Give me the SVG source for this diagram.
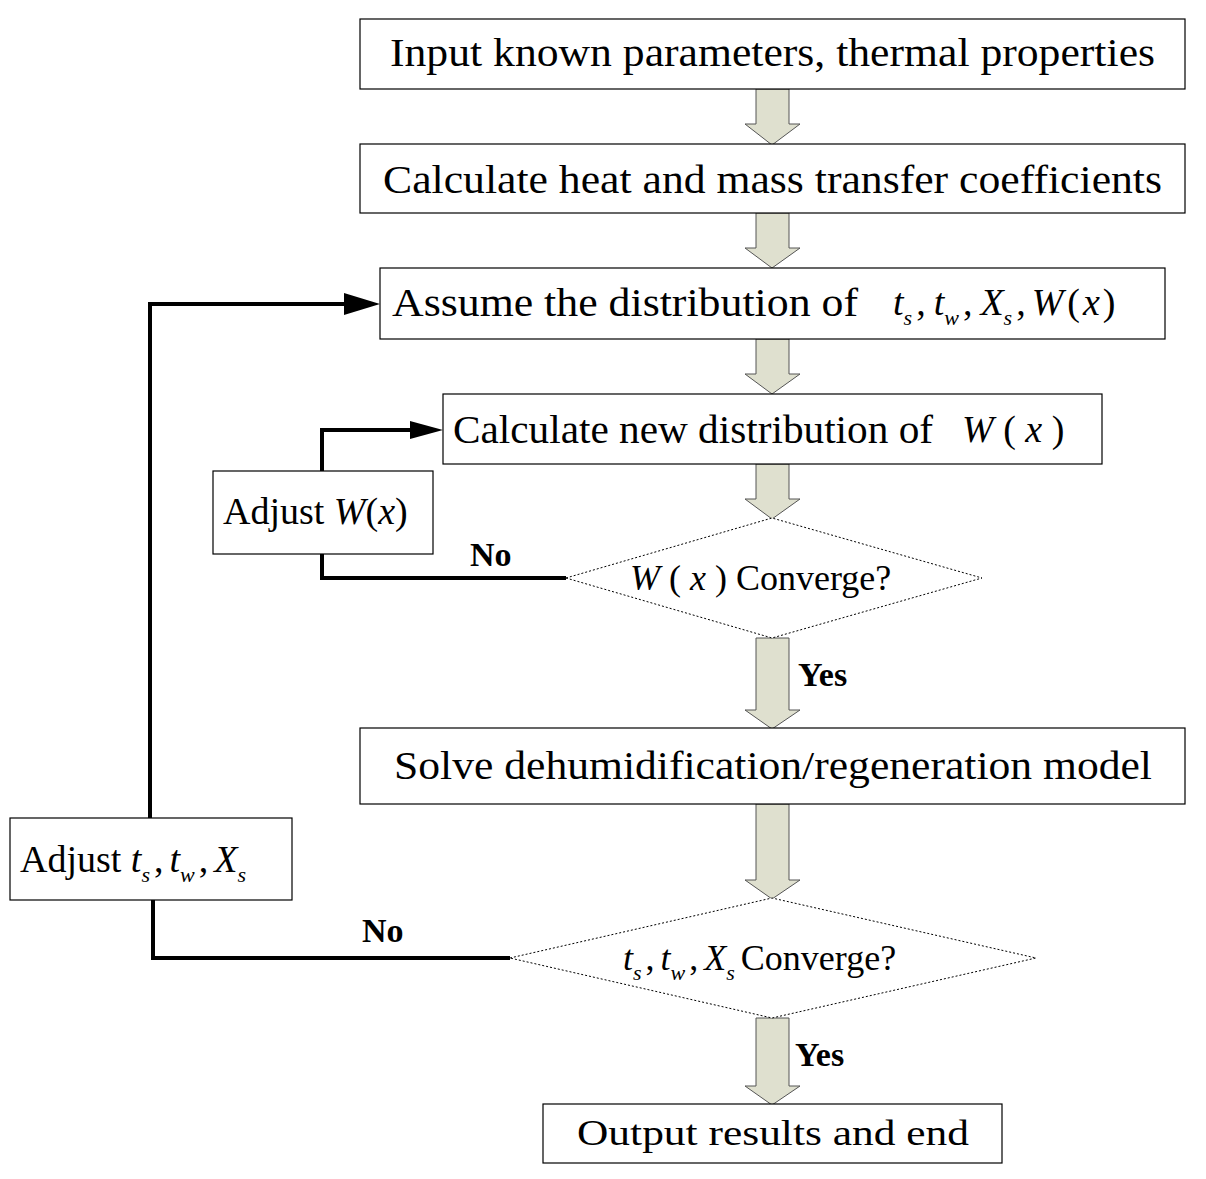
<svg xmlns="http://www.w3.org/2000/svg" width="1206" height="1179" viewBox="0 0 1206 1179">
<style>
.box{fill:#fff;stroke:#000;stroke-width:1.2}
.dia{fill:#fff;stroke:#000;stroke-width:1;stroke-dasharray:2,2}
.t{font-family:"Liberation Serif",serif;font-size:38px;fill:#000}
.L{font-size:41px}
.i{font-style:italic}
.s{font-size:22px;font-style:italic}
.b{font-family:"Liberation Serif",serif;font-weight:bold;font-size:34px}
.ar{fill:#dfe0cf;stroke:#555;stroke-width:1}
.ln{fill:none;stroke:#000;stroke-width:4}
</style>
<g id="connectors">
<path class="ar" d="M756,89 H789 V124 H800 L772,145 L745,124 H756Z"/>
<path class="ar" d="M756,213 H789 V248 H800 L772,268 L745,248 H756Z"/>
<path class="ar" d="M756,339 H789 V374 H800 L772,394 L745,374 H756Z"/>
<path class="ar" d="M756,464 H789 V499 H800 L772,519 L745,499 H756Z"/>
<path class="ar" d="M756,638 H789 V710 H800 L772,729 L745,710 H756Z"/>
<path class="ar" d="M756,804 H789 V880 H800 L772,899 L745,880 H756Z"/>
<path class="ar" d="M756,1018 H789 V1086 H800 L772,1105 L745,1086 H756Z"/>
<path class="ln" d="M566,578 H322 V554"/>
<path class="ln" d="M322,471 V430 H410"/>
<path d="M410,421 L443,430 L410,439Z" fill="#000"/>
<path class="ln" d="M510,958 H153 V900"/>
<path class="ln" d="M150,818 V304 H346"/>
<path d="M344,293 L380,304 L344,315Z" fill="#000"/>
<text class="b" x="470" y="566">No</text>
<text class="b" x="362" y="942">No</text>
<text class="b" x="798" y="686">Yes</text>
<text class="b" x="795" y="1066">Yes</text>
</g>
<g id="n1"><rect class="box" x="360" y="19" width="825" height="70"/><text class="t L" x="390" y="66" textLength="765" lengthAdjust="spacingAndGlyphs">Input known parameters, thermal properties</text></g>
<g id="n2"><rect class="box" x="360" y="144" width="825" height="69"/><text class="t L" x="383" y="193" textLength="779" lengthAdjust="spacingAndGlyphs">Calculate heat and mass transfer coefficients</text></g>
<g id="n3"><rect class="box" x="380" y="268" width="785" height="71"/><text class="t L" x="392" y="316" textLength="466" lengthAdjust="spacingAndGlyphs">Assume the distribution of</text>
<text class="t" x="893" y="315"><tspan class="i">t</tspan><tspan class="s" dy="10">s</tspan><tspan dy="-10" dx="4">,</tspan><tspan class="i" dx="8">t</tspan><tspan class="s" dy="10">w</tspan><tspan dy="-10" dx="4">,</tspan><tspan class="i" dx="8">X</tspan><tspan class="s" dy="10">s</tspan><tspan dy="-10" dx="4">,</tspan><tspan class="i" dx="6">W</tspan><tspan dx="4">(</tspan><tspan class="i" dx="3">x</tspan><tspan dx="3">)</tspan></text></g>
<g id="n4"><rect class="box" x="443" y="394" width="659" height="70"/><text class="t L" x="453" y="443" textLength="480" lengthAdjust="spacingAndGlyphs">Calculate new distribution of</text><text class="t" x="962" y="442"><tspan class="i">W</tspan> ( <tspan class="i">x</tspan> )</text></g>
<g id="d1"><polygon class="dia" points="566,578 772,518 982,578 772,638"/><text class="t" x="630" y="590" style="font-size:36px"><tspan class="i">W</tspan> ( <tspan class="i">x</tspan> ) Converge?</text></g>
<g id="n5"><rect class="box" x="360" y="728" width="825" height="76"/><text class="t L" x="394" y="779" textLength="758" lengthAdjust="spacingAndGlyphs">Solve dehumidification/regeneration model</text></g>
<g id="d2"><polygon class="dia" points="510,958 772,898 1036,958 772,1018"/><text class="t" x="623" y="970" style="font-size:36px"><tspan class="i">t</tspan><tspan class="s" dy="10">s</tspan><tspan dy="-10" dx="4">,</tspan><tspan class="i" dx="6">t</tspan><tspan class="s" dy="10">w</tspan><tspan dy="-10" dx="4">,</tspan><tspan class="i" dx="6">X</tspan><tspan class="s" dy="10">s</tspan><tspan dy="-10" dx="6">Converge?</tspan></text></g>
<g id="n6"><rect class="box" x="543" y="1104" width="459" height="59"/><text class="t" x="577" y="1145" style="font-size:36px" textLength="392" lengthAdjust="spacingAndGlyphs">Output results and end</text></g>
<g id="a1"><rect class="box" x="213" y="471" width="220" height="83"/><text class="t" x="223" y="524">Adjust <tspan class="i">W</tspan>(<tspan class="i">x</tspan>)</text></g>
<g id="a2"><rect class="box" x="10" y="818" width="282" height="82"/><text class="t" x="20" y="872">Adjust <tspan class="i">t</tspan><tspan class="s" dy="10">s</tspan><tspan dy="-10" dx="4">,</tspan><tspan class="i" dx="6">t</tspan><tspan class="s" dy="10">w</tspan><tspan dy="-10" dx="4">,</tspan><tspan class="i" dx="6">X</tspan><tspan class="s" dy="10">s</tspan></text></g>
</svg>
